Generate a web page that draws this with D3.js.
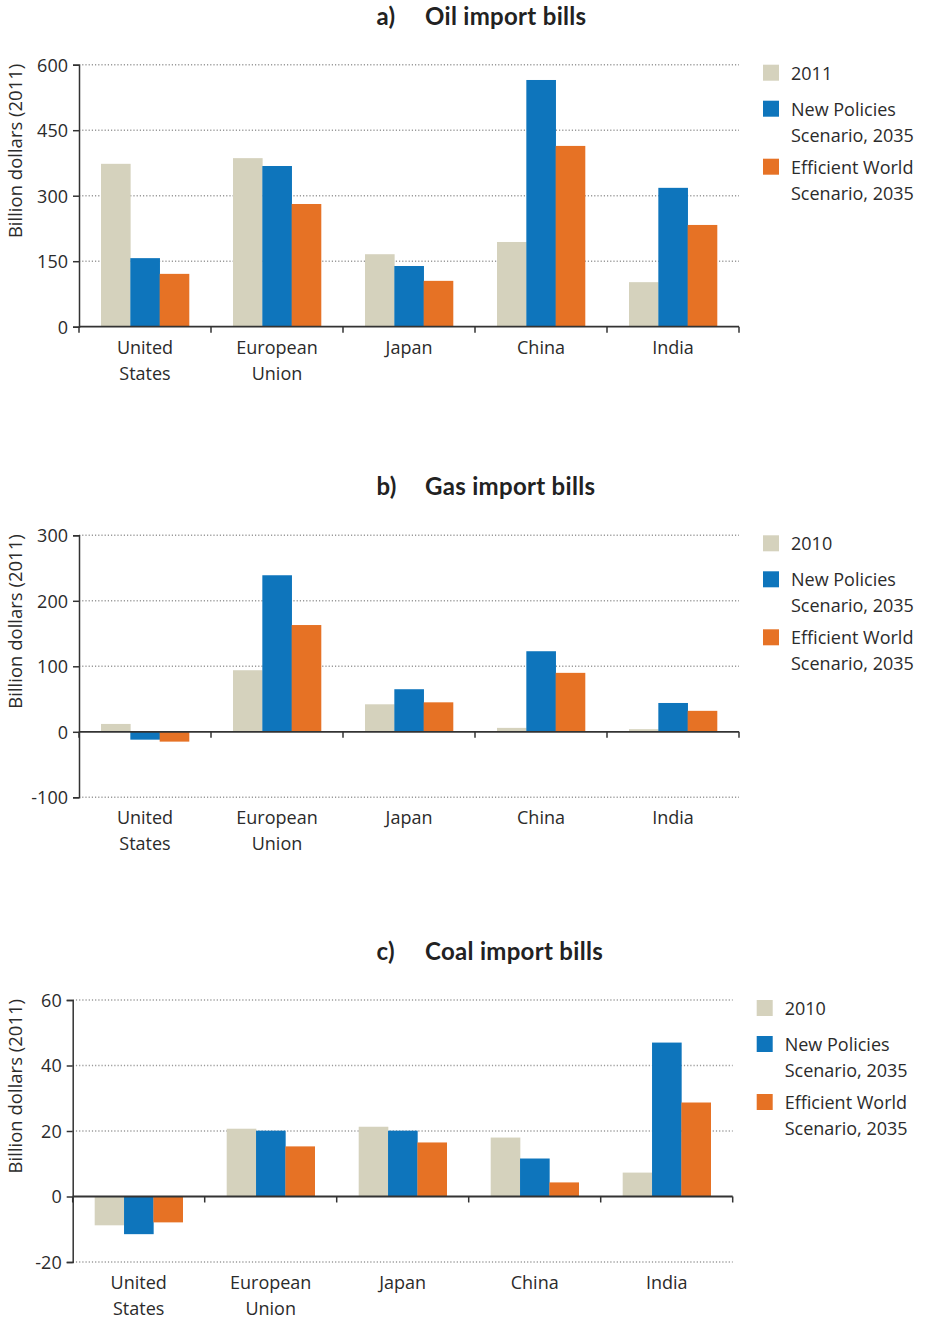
<!DOCTYPE html>
<html>
<head>
<meta charset="utf-8">
<script src="https://cdn.jsdelivr.net/npm/d3@7"></script>
<style>
  body { margin: 0; background: #fff; }
  svg text { font-family: "Open Sans", sans-serif; fill: #2b2b2b; }
  .title { font-family: Lato, sans-serif !important; font-weight: 700; font-size: 24px; letter-spacing: 0.3px; fill: #222; }
</style>
</head>
<body>
<div id="chart"></div>
<script>
// Data
const categories = ["United States", "European Union", "Japan", "China", "India"];
const seriesKeys = ["base", "nps", "ews"];

const oil2011 = [373, 386, 166, 194, 102];
const oilNPS  = [157, 368, 139, 565, 318];
const oilEWS  = [121, 281, 105, 414, 233];
const oilTicks = [0, 150, 300, 450, 600];

const gas2010 = [12, 94, 42, 6, 4];
const gasNPS  = [-12, 239, 65, 123, 44];
const gasEWS  = [-15, 163, 45, 90, 32];
const gasTicks = [-100, 0, 100, 200, 300];

const coal2010 = [-8.8, 20.7, 21.3, 18.0, 7.3];
const coalNPS  = [-11.5, 20.1, 20.1, 11.6, 47.0];
const coalEWS  = [-7.9, 15.3, 16.5, 4.3, 28.7];
const coalTicks = [-20, 0, 20, 40, 60];

const colors = {base: "#d5d2bd", nps: "#0e75bc", ews: "#e67225"};

const panels = [
  {letter: "a)", title: "Oil import bills", baseLabel: "2011",
   values: [oil2011, oilNPS, oilEWS], ticks: oilTicks, left: 79, top: 64.7},
  {letter: "b)", title: "Gas import bills", baseLabel: "2010",
   values: [gas2010, gasNPS, gasEWS], ticks: gasTicks, left: 79, top: 535.3},
  {letter: "c)", title: "Coal import bills", baseLabel: "2010",
   values: [coal2010, coalNPS, coalEWS], ticks: coalTicks, left: 72.7, top: 1000}
];

const width = 660, height = 262;

const svg = d3.select("#chart")
  .append("svg")
    .attr("width", 925)
    .attr("height", 1319);

panels.forEach(p => {
  const g = svg.append("g")
    .attr("transform", `translate(${p.left},${p.top})`);

  const rows = categories.map((c, i) => ({
    cat: c, base: p.values[0][i], nps: p.values[1][i], ews: p.values[2][i]
  }));

  // Scales
  const x = d3.scaleBand()
    .domain(categories)
    .range([0, width])
    .paddingInner(1/3)
    .paddingOuter(1/6);
  const xs = d3.scaleBand()
    .domain(seriesKeys)
    .range([0, x.bandwidth()]);
  const y = d3.scaleLinear()
    .domain(d3.extent(p.ticks))
    .range([height, 0]);

  // Gridlines (dotted), not at zero
  g.selectAll(".grid")
    .data(p.ticks.filter(t => t !== 0))
    .join("line")
      .attr("x1", 0).attr("x2", width)
      .attr("y1", d => y(d)).attr("y2", d => y(d))
      .attr("stroke", "#9a9a9a")
      .attr("stroke-width", 1.4)
      .attr("stroke-dasharray", "1.2,2");

  // Bars
  g.selectAll(".grp")
    .data(rows)
    .join("g")
      .attr("transform", d => `translate(${x(d.cat)},0)`)
    .selectAll("rect")
    .data(d => seriesKeys.map(k => ({key: k, value: d[k]})))
    .join("rect")
      .attr("x", d => xs(d.key))
      .attr("width", xs.bandwidth() + 0.3)
      .attr("y", d => y(Math.max(0, d.value)))
      .attr("height", d => Math.abs(y(d.value) - y(0)))
      .attr("fill", d => colors[d.key]);

  // Y axis
  const yAxis = g.append("g")
    .call(d3.axisLeft(y).tickValues(p.ticks).tickSize(6).tickPadding(5));
  yAxis.select(".domain").attr("stroke", "#333").attr("stroke-width", 1.5);
  yAxis.selectAll(".tick line").attr("stroke", "#333").attr("stroke-width", 1.5);
  yAxis.selectAll(".tick text")
    .style("font-size", "18px")
    .attr("dy", "0.36em")
    .text(d => d);

  // X axis at zero with ticks at band boundaries
  const y0 = y(0);
  g.append("line")
    .attr("x1", 0).attr("x2", width)
    .attr("y1", y0).attr("y2", y0)
    .attr("stroke", "#333").attr("stroke-width", 1.8);
  g.selectAll(".xtick")
    .data(d3.range(categories.length + 1))
    .join("line")
      .attr("x1", i => i * x.step()).attr("x2", i => i * x.step())
      .attr("y1", y0).attr("y2", y0 + 6)
      .attr("stroke", "#333").attr("stroke-width", 1.5);

  // Category labels below plot
  g.selectAll(".cat")
    .data(categories)
    .join("text")
      .attr("text-anchor", "middle")
      .attr("x", d => x(d) + x.bandwidth() / 2)
      .attr("y", height + 27)
      .style("font-size", "18px")
      .each(function(d) {
        const words = d.split(" ");
        d3.select(this).selectAll("tspan")
          .data(words)
          .join("tspan")
            .attr("x", x(d) + x.bandwidth() / 2)
            .attr("dy", (w, i) => i === 0 ? 0 : 26)
            .text(w => w);
      });

  // Y axis title
  svg.append("text")
    .attr("transform", `translate(22,${p.top - 1}) rotate(-90)`)
    .attr("text-anchor", "end")
    .style("font-size", "18.5px")
    .text("Billion dollars (2011)");

  // Title
  svg.append("text")
    .attr("class", "title")
    .attr("x", 376.5)
    .attr("y", p.top - 40)
    .text(p.letter);
  svg.append("text")
    .attr("class", "title")
    .attr("x", 425)
    .attr("y", p.top - 40)
    .text(p.title);

  // Legend
  const legendItems = [
    {key: "base", lines: [p.baseLabel], dy: 0},
    {key: "nps", lines: ["New Policies", "Scenario, 2035"], dy: 36},
    {key: "ews", lines: ["Efficient World", "Scenario, 2035"], dy: 94}
  ];
  const lg = g.append("g").attr("transform", `translate(${684},0)`);
  legendItems.forEach(it => {
    lg.append("rect")
      .attr("x", 0).attr("y", it.dy)
      .attr("width", 16).attr("height", 16)
      .attr("fill", colors[it.key]);
    it.lines.forEach((l, i) => {
      lg.append("text")
        .attr("x", 28)
        .attr("y", it.dy + 15 + i * 26)
        .style("font-size", "18px")
        .text(l);
    });
  });
});
</script>
</body>
</html>
